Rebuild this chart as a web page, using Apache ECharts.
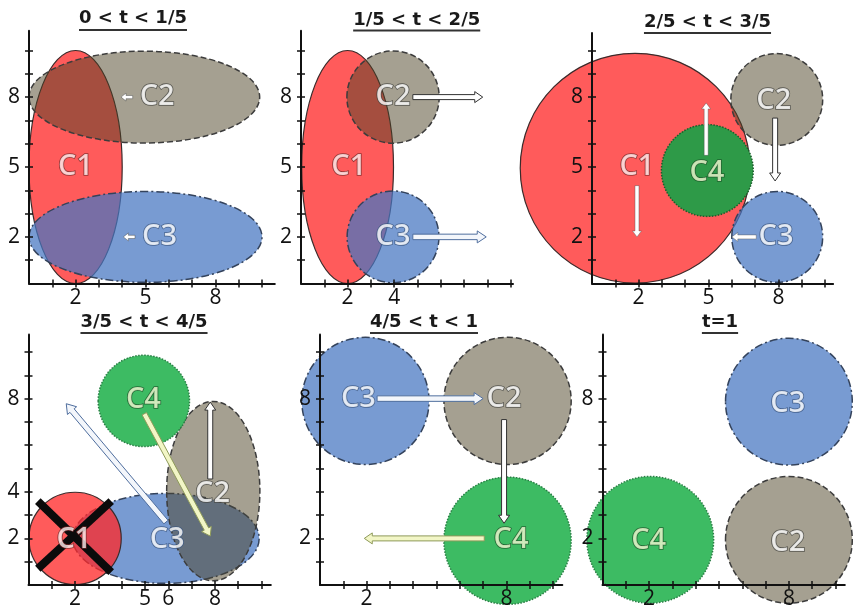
<!DOCTYPE html>
<html><head><meta charset="utf-8">
<script src="https://cdn.jsdelivr.net/npm/echarts@6/dist/echarts.min.js"></script>
<style>html,body{margin:0;padding:0;background:#fff}#c{width:853px;height:614px}</style>
</head><body><div id="c"></div>
<script>
// ================= DATA =================
const titles = ['0 < t < 1/5', '1/5 < t < 2/5', '2/5 < t < 3/5', '3/5 < t < 4/5', '4/5 < t < 1', 't=1'];

const xTickValues = [
  [1,2,3,4,5,6,7,8,9,10], [1,2,3,4,5,6,7,8,9], [1,2,3,4,5,6,7,8,9,10],
  [1,2,3,4,5,6,7,8,9,10], [1,2,3,4,5,6,7,8,9,10], [1,2,3,4,5,6,7,8,9,10]
];
const yTickValues = [
  [1,2,3,4,5,6,7,8,9,10], [1,2,3,4,5,6,7,8,9,10], [1,2,3,4,5,6,7,8,9,10],
  [1,2,3,4,5,6,7,8,9,10], [1,2,3,4,5,6,7,8,9,10], [1,2,3,4,5,6,7,8,9,10]
];
const xTickLabels = [[2,5,8], [2,4], [2,5,8], [2,5,6,8], [2,8], [2,8]];
const yTickLabels = [[2,5,8], [2,5,8], [2,5,8], [2,4,8], [2,8], [2,8]];

// clusters: [name, centerX, centerY, radiusX, radiusY]
const clusters1 = [['C1',2,5,2,5], ['C2',4.95,8,4.95,1.97], ['C3',5,2,5,1.95]];
const clusters2 = [['C1',2,5,1.97,5], ['C2',3.95,8,1.98,1.98], ['C3',3.95,2,1.97,1.97]];
const clusters3 = [['C1',1.85,4.95,4.93,4.93], ['C2',7.93,7.9,1.97,1.97], ['C3',7.95,2,1.95,1.95], ['C4',4.95,4.85,1.97,1.97]];
const clusters4 = [['C3',5.9,2,4,1.93], ['C2',7.93,4.03,2,3.85], ['C1',2,2,1.98,1.98], ['C4',4.95,7.9,1.96,1.96]];
const clusters5 = [['C3',1.95,7.9,2.73,2.73], ['C2',8.05,7.9,2.73,2.73], ['C4',8.05,1.9,2.73,2.73]];
const clusters6 = [['C3',8,7.87,2.72,2.72], ['C2',8,1.94,2.72,2.72], ['C4',2.05,1.94,2.72,2.72]];

// labels: [text, x, y]
const labels1 = [['C1',2,5], ['C2',5.5,8], ['C3',5.6,2]];
const labels2 = [['C1',2.05,5], ['C2',3.95,8], ['C3',3.95,2]];
const labels3 = [['C1',1.93,5], ['C4',4.93,4.75], ['C2',7.8,7.85], ['C3',7.9,2]];
const labels4 = [['C1',1.95,1.93], ['C3',5.95,1.93], ['C2',7.9,3.9], ['C4',4.93,7.93]];
const labels5 = [['C3',1.65,8], ['C2',7.9,8], ['C4',8.2,1.95]];
const labels6 = [['C3',7.95,7.8], ['C2',7.95,1.8], ['C4',1.98,1.9]];

// arrows: [kind, fromX, fromY, toX, toY]
const arrows1 = [['whiteSmall',4.45,8,3.95,8], ['whiteSmall',4.55,2,4.05,2]];
const arrows2 = [['hollow',4.8,8,7.8,8], ['hollowBlue',4.8,2,7.95,2]];
const arrows3 = [['white',1.93,4.2,1.93,2.0], ['white',4.9,5.5,4.9,7.75], ['hollow',7.86,7.1,7.86,4.4], ['white',7.05,2,6.0,2]];
const arrows4 = [['hollowBlue',5.9,2.7,1.62,7.78], ['hollowYellow',4.97,7.35,7.8,2.1], ['hollow',7.8,4.55,7.8,7.85]];
const arrows5 = [['hollowBlue',2.45,8,7.0,8], ['hollow',7.9,7.1,7.9,2.65], ['hollowYellow',7.05,2,1.9,2]];
const arrows6 = [];

// removed cluster mark (panel 4): [x1, y1, x2, y2]
const cross4 = [[0.4,3.6,3.55,0.55], [3.55,3.6,0.4,0.7]];

// ================= LAYOUT / STYLE =================
const UNIT = 23.3;
const layout = [
  {ox:29,    oy:283.5, xMax:10.55, yMax:10.85, tx:133,   ty:18.5, uy:30},
  {ox:301,   oy:283.5, xMax:9.1,   yMax:10.85, tx:416.7, ty:20,   uy:30.5},
  {ox:592,   oy:283.5, xMax:10.35, yMax:10.75, tx:707.5, ty:22.5, uy:33},
  {ox:28.5,  oy:585,   xMax:10.4,  yMax:10.75, tx:144,   ty:322,  uy:333},
  {ox:320,   oy:585,   xMax:10.4,  yMax:10.75, tx:424,   ty:322,  uy:333},
  {ox:602.5, oy:585,   xMax:10.4,  yMax:10.75, tx:720,   ty:322,  uy:333}
];
const panelClusters = [clusters1, clusters2, clusters3, clusters4, clusters5, clusters6];
const panelLabels = [labels1, labels2, labels3, labels4, labels5, labels6];
const panelArrows = [arrows1, arrows2, arrows3, arrows4, arrows5, arrows6];

const FONT = '"Open Sans", "DejaVu Sans", sans-serif';
const TITLE_FONT = 'bold 18px "DejaVu Sans"';

function clusterStyle(name, panel) {
  if (name === 'C1') return {fill:'rgba(255,40,40,0.76)', stroke:'#3b2b2b', lineWidth:1.2};
  if (name === 'C2') return {fill:'rgba(75,65,35,0.5)', stroke:'#3c3c3c', lineWidth:1.5, lineDash:[6,3]};
  if (name === 'C3') return {fill:'rgba(70,118,193,0.73)', stroke:'#34435c', lineWidth:1.5, lineDash:[8,3,2,3]};
  if (panel === 2) return {fill:'#2E9A48', stroke:'#1B5E2B', lineWidth:1.5, lineDash:[1.5,1.5]};
  return {fill:'#3DBB63', stroke:'#2A7F45', lineWidth:1.5, lineDash:[1.5,1.5]};
}
function labelStyle(name) {
  const m = {
    C1:{color:'#FFF0F0', textBorderColor:'#7A2A2A'},
    C2:{color:'#FFFFFF', textBorderColor:'#44443E'},
    C3:{color:'#FFFFFF', textBorderColor:'#3A5580'},
    C4:{color:'#F3F9D2', textBorderColor:'#1A5528'}
  };
  return Object.assign({textBorderWidth:1.6}, m[name]);
}
const arrowStyles = {
  whiteSmall:  {fill:'#FFFFFF', stroke:'rgba(80,80,80,0.7)', lw:0.7, sw:3.2, hw:8,  hl:5},
  white:       {fill:'#FFFFFF', stroke:'rgba(80,80,80,0.6)', lw:0.7, sw:4,   hw:9,  hl:6},
  hollow:      {fill:'#FFFFFF', stroke:'#333333', lw:1, sw:5,   hw:11, hl:8},
  hollowBlue:  {fill:'#F3F6FB', stroke:'#4F6E9E', lw:1, sw:5.5, hw:12, hl:9},
  hollowYellow:{fill:'#F2F6C6', stroke:'#8E9A5A', lw:1, sw:5,   hw:11, hl:8}
};

// ================= BUILD =================
const chart = echarts.init(document.getElementById('c'), null, {renderer:'canvas'});
const grids = [], xAxes = [], yAxes = [], series = [];
const tickStyle = {color:'#111', width:1.5};
const measure = document.createElement('canvas').getContext('2d');
measure.font = TITLE_FONT;
const graphics = [];

layout.forEach((L, i) => {
  grids.push({left:L.ox, top:L.oy - L.yMax*UNIT, width:L.xMax*UNIT, height:L.yMax*UNIT,
              containLabel:false, outerBoundsMode:'none'});
  const lineOn = {show:true, onZero:false, lineStyle:{color:'#111', width:2}};
  xAxes.push({gridIndex:i, type:'value', min:0, max:L.xMax, position:'bottom', z:10, axisLine:lineOn,
    axisTick:{show:true, length:4, customValues:xTickValues[i], lineStyle:tickStyle},
    axisLabel:{show:true, customValues:xTickLabels[i], margin:4, fontSize:21, fontFamily:FONT, color:'#111'},
    splitLine:{show:false}});
  xAxes.push({gridIndex:i, type:'value', min:0, max:L.xMax, position:'bottom', z:10, axisLine:{show:false},
    axisTick:{show:true, inside:true, length:4, customValues:xTickValues[i], lineStyle:tickStyle},
    axisLabel:{show:false}, splitLine:{show:false}});
  yAxes.push({gridIndex:i, type:'value', min:0, max:L.yMax, position:'left', z:10, axisLine:lineOn,
    axisTick:{show:true, length:4, customValues:yTickValues[i], lineStyle:tickStyle},
    axisLabel:{show:true, customValues:yTickLabels[i], margin:9, fontSize:21, fontFamily:FONT, color:'#111'},
    splitLine:{show:false}});
  yAxes.push({gridIndex:i, type:'value', min:0, max:L.yMax, position:'left', z:10, axisLine:{show:false},
    axisTick:{show:true, inside:true, length:4, customValues:yTickValues[i], lineStyle:tickStyle},
    axisLabel:{show:false}, splitLine:{show:false}});

  const C = panelClusters[i];
  series.push({type:'custom', xAxisIndex:2*i, yAxisIndex:2*i, clip:false, z:2, silent:true,
    data:C.map(s => [s[1], s[2], s[3], s[4]]), encode:{x:0, y:1},
    renderItem:(params, api) => {
      const s = C[params.dataIndex];
      const c = api.coord([api.value(0), api.value(1)]);
      const sz = api.size([api.value(2), api.value(3)]);
      return {type:'ellipse', shape:{cx:c[0], cy:c[1], rx:sz[0], ry:sz[1]}, style:clusterStyle(s[0], i)};
    }});

  if (i === 3) {
    series.push({type:'custom', xAxisIndex:2*i, yAxisIndex:2*i, clip:false, z:3, silent:true,
      data:cross4, encode:{x:[0,2], y:[1,3]},
      renderItem:(params, api) => {
        const p1 = api.coord([api.value(0), api.value(1)]);
        const p2 = api.coord([api.value(2), api.value(3)]);
        return {type:'line', shape:{x1:p1[0], y1:p1[1], x2:p2[0], y2:p2[1]},
                style:{stroke:'#0b0b0b', lineWidth:8, lineCap:'butt'}};
      }});
  }

  const A = panelArrows[i];
  if (A.length) {
    series.push({type:'custom', xAxisIndex:2*i, yAxisIndex:2*i, clip:false, z:4, silent:true,
      data:A.map(a => [a[1], a[2], a[3], a[4]]), encode:{x:[0,2], y:[1,3]},
      renderItem:(params, api) => {
        const st = arrowStyles[A[params.dataIndex][0]];
        const p1 = api.coord([api.value(0), api.value(1)]);
        const p2 = api.coord([api.value(2), api.value(3)]);
        const dx = p2[0]-p1[0], dy = p2[1]-p1[1], len = Math.hypot(dx, dy);
        const ux = dx/len, uy = dy/len, nx = -uy, ny = ux;
        const q = [p2[0]-ux*st.hl, p2[1]-uy*st.hl];
        const s = st.sw/2, h = st.hw/2;
        const pts = [
          [p1[0]+nx*s, p1[1]+ny*s], [q[0]+nx*s, q[1]+ny*s], [q[0]+nx*h, q[1]+ny*h],
          [p2[0], p2[1]],
          [q[0]-nx*h, q[1]-ny*h], [q[0]-nx*s, q[1]-ny*s], [p1[0]-nx*s, p1[1]-ny*s]
        ];
        return {type:'polygon', shape:{points:pts}, style:{fill:st.fill, stroke:st.stroke, lineWidth:st.lw}};
      }});
  }

  const LB = panelLabels[i];
  series.push({type:'scatter', xAxisIndex:2*i, yAxisIndex:2*i, z:6, silent:true, clip:false,
    symbolSize:1, itemStyle:{color:'rgba(0,0,0,0)'},
    label:{show:true, position:'inside', formatter:'{b}', fontSize:29, fontWeight:600, fontFamily:FONT},
    data:LB.map(l => ({name:l[0], value:[l[1], l[2]], label:labelStyle(l[0])}))});

  const w = measure.measureText(titles[i]).width;
  graphics.push({type:'text', x:L.tx, y:L.ty, silent:true,
    style:{text:titles[i], font:TITLE_FONT, fill:'#1a1a1a', align:'center', verticalAlign:'middle'}});
  graphics.push({type:'line', silent:true,
    shape:{x1:L.tx - w/2, y1:L.uy, x2:L.tx + w/2, y2:L.uy}, style:{stroke:'#333', lineWidth:1.8}});
});

chart.setOption({
  animation:false,
  backgroundColor:'#ffffff',
  grid:grids, xAxis:xAxes, yAxis:yAxes, series:series, graphic:graphics
});
</script>
</body></html>
